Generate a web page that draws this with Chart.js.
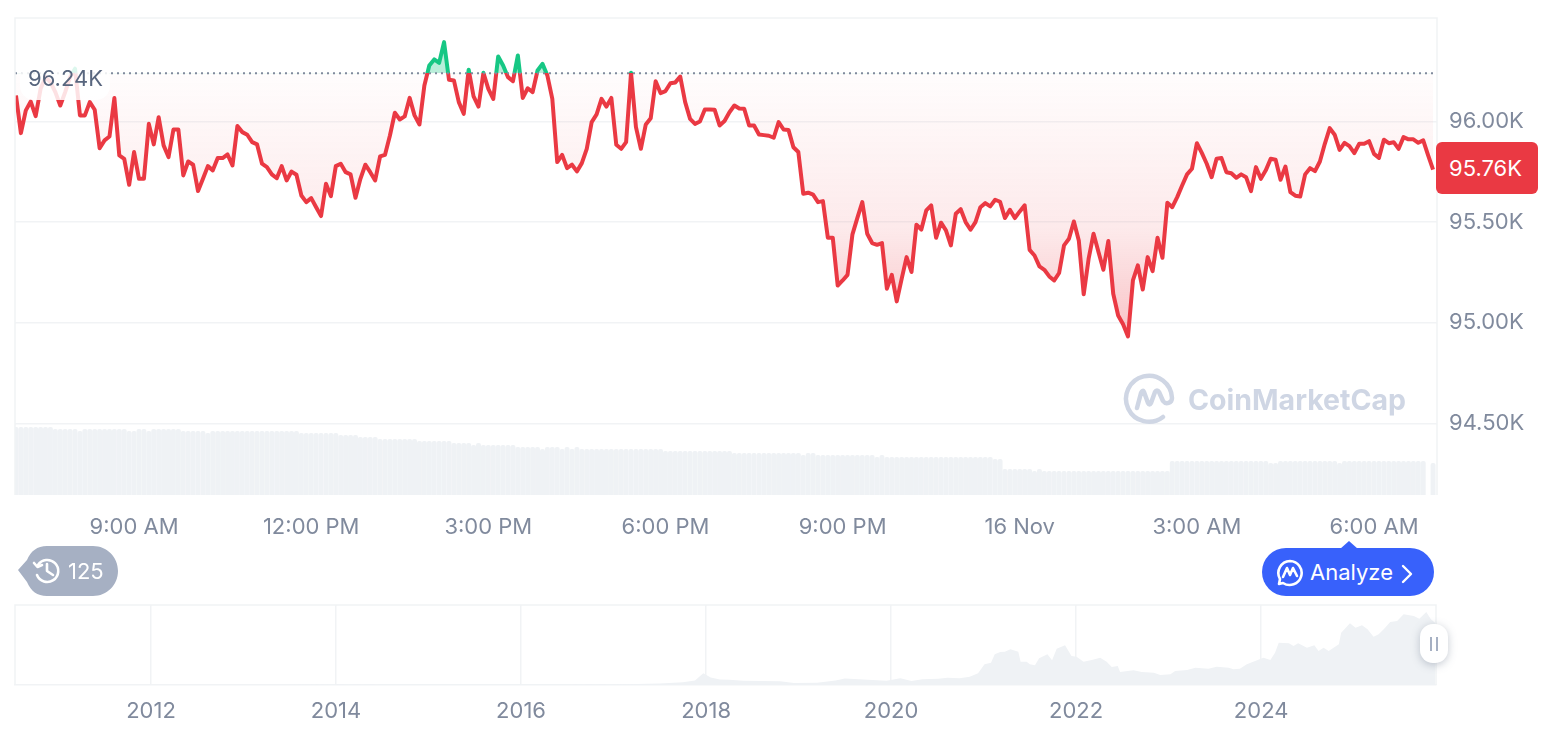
<!DOCTYPE html>
<html>
<head>
<meta charset="utf-8">
<title>BTC price</title>
<script src="https://cdn.jsdelivr.net/npm/chart.js@4"></script>
<style>
html, body { margin: 0; padding: 0; background: #fff; width: 1566px; height: 732px; overflow: hidden; font-family: Inter, sans-serif; }
canvas { position: absolute; left: 0; display: block; }
#mainChart { top: 0; }
#navChart { top: 590px; }
.tag { position: absolute; white-space: nowrap; }
#refLabel { left: 20px; top: 64px; width: 90px; height: 36px; border-radius: 14px; background: rgba(255,255,255,.85); color: #58667e; font-size: 22px; line-height: 28px; padding-left: 8px; box-sizing: border-box; }
#priceTag { left: 1436px; top: 142px; width: 102px; height: 52px; border-radius: 6px; background: #ea3943; color: #fff; font-size: 22px; line-height: 52px; padding-left: 13px; box-sizing: border-box; }
#mark { left: 1188px; top: 380px; color: #cfd6e4; font-size: 28.5px; font-weight: 700; line-height: 40px; }
#analyze { left: 1262px; top: 548px; width: 172px; height: 48px; border-radius: 24px; background: #3861fb; color: #fff; font-size: 22px; line-height: 48px; padding-left: 48px; box-sizing: border-box; }
#backCount { left: 68px; top: 546px; color: #fff; font-size: 22px; line-height: 50px; }
#handle { left: 1420px; top: 624px; width: 28px; height: 39px; border-radius: 13px; background: #fff; box-shadow: 0 2px 9px rgba(88,102,126,.35); }
#handle i { position: absolute; top: 13px; width: 2px; height: 14px; background: #a6b0c3; }
svg { position: absolute; }
</style>
</head>
<body>
<canvas id="mainChart" width="1566" height="732"></canvas>
<canvas id="navChart" width="1566" height="142"></canvas>

<div class="tag" id="refLabel">96.24K</div>
<div class="tag" id="priceTag">95.76K</div>

<svg style="left:1122px;top:370px" width="56" height="56" viewBox="0 0 56 56" fill="none" stroke="#cfd6e4" stroke-width="4.500" stroke-linecap="round" stroke-linejoin="round">
  <path d="M41 47 A23 23 0 1 1 50 28 C50 33 44 35 41 31 L37 22 C36 20 34 20 33 22 L29 33 C28 35 27 35 26 33 L22 22 C21 20 20 21 19 23 L15 38"/>
</svg>
<div class="tag" id="mark">CoinMarketCap</div>

<svg style="left:17px;top:546px" width="102" height="50" viewBox="0 0 102 50"><path d="M1 24 L10 14 C14 5 20 0 30 0 H76 C90 0 101 11 101 25 C101 39 90 50 76 50 H30 C20 50 14 45 10 36 Z" fill="#a6b0c3"/>
  <g fill="none" stroke="#fff" stroke-width="2.6" stroke-linecap="round" stroke-linejoin="round"><path d="M21 19 A11 11 0 1 1 20 29"/><path d="M17 17 L20.500 21 L25 19"/><path d="M30 18 V25 L36 29"/></g></svg>
<div class="tag" id="backCount">125</div>

<svg style="left:1338px;top:540px" width="22" height="10" viewBox="0 0 22 10"><path d="M2 9 L11 1 L20 9 Z" fill="#3861fb"/></svg>
<div class="tag" id="analyze">Analyze</div>
<svg style="left:1276px;top:559px" width="28" height="28" viewBox="0 0 28 28" fill="none" stroke="#fff" stroke-width="2.600" stroke-linecap="round" stroke-linejoin="round"><path d="M14 2 A12 12 0 1 1 7 24 L3 25 L4 20 A12 12 0 0 1 14 2 Z"/><path d="M7 18 L11 9 L14 16 L17 9 L21 17"/></svg>
<svg style="left:1400px;top:564px" width="14" height="20" viewBox="0 0 14 20" fill="none" stroke="#fff" stroke-width="2.400" stroke-linecap="round" stroke-linejoin="round"><path d="M3 2 L11 10 L3 18"/></svg>

<div class="tag" id="handle"><i style="left:10px"></i><i style="left:16px"></i></div>

<script>
// 24h price, one reading every 5 minutes, starting 7:00 AM
var prices = [
  96129, 95942, 96055, 96099, 96026, 96162, 96220, 96195, 96146, 96079, 96146, 96220,
  96262, 96030, 96030, 96096, 96058, 95867, 95906, 95925, 96116, 95831, 95814, 95685,
  95848, 95715, 95715, 95988, 95886, 96021, 95881, 95823, 95960, 95960, 95732, 95801,
  95785, 95654, 95715, 95778, 95757, 95818, 95818, 95836, 95781, 95977, 95947, 95934,
  95897, 95886, 95790, 95773, 95737, 95718, 95778, 95707, 95751, 95735, 95632, 95599,
  95619, 95574, 95530, 95690, 95629, 95778, 95790, 95748, 95737, 95621, 95715, 95785,
  95748, 95707, 95826, 95834, 95930, 96043, 96010, 96025, 96117, 96030, 95985, 96179,
  96278, 96308, 96291, 96394, 96207, 96204, 96096, 96038, 96257, 96124, 96074, 96242,
  96162, 96112, 96323, 96278, 96220, 96200, 96328, 96117, 96165, 96146, 96253, 96286,
  96228, 96112, 95798, 95834, 95768, 95785, 95752, 95793, 95864, 95997, 96035, 96112,
  96074, 96117, 95884, 95864, 95897, 96242, 95972, 95864, 95985, 96016, 96200, 96141,
  96151, 96190, 96194, 96223, 96096, 96013, 95988, 96000, 96059, 96059, 96058, 95980,
  96002, 96046, 96079, 96064, 96063, 95980, 95980, 95935, 95932, 95929, 95919, 95997,
  95960, 95958, 95872, 95848, 95641, 95646, 95636, 95599, 95604, 95422, 95422, 95185,
  95210, 95238, 95439, 95521, 95599, 95442, 95396, 95387, 95396, 95169, 95238, 95106,
  95218, 95326, 95252, 95487, 95463, 95558, 95583, 95422, 95497, 95459, 95384, 95541,
  95564, 95500, 95462, 95500, 95574, 95594, 95578, 95611, 95601, 95520, 95561, 95520,
  95553, 95583, 95362, 95334, 95280, 95263, 95230, 95210, 95247, 95384, 95417, 95503,
  95409, 95141, 95318, 95442, 95351, 95263, 95406, 95144, 95036, 94992, 94932, 95210,
  95285, 95165, 95326, 95256, 95422, 95323, 95596, 95574, 95624, 95682, 95737, 95765,
  95892, 95844, 95790, 95723, 95815, 95818, 95748, 95743, 95720, 95737, 95723, 95654,
  95773, 95715, 95757, 95815, 95810, 95710, 95776, 95649, 95631, 95627, 95737, 95768,
  95753, 95801, 95889, 95967, 95934, 95859, 95894, 95877, 95843, 95889, 95889, 95902,
  95839, 95819, 95909, 95892, 95897, 95864, 95922, 95911, 95911, 95894, 95906, 95831,
  95761
];

// rolling volume in billions
var volumes = [
  67.7, 67.7, 67.7, 67.7, 67.7, 67.7, 67.7, 67.7,
  65.7, 65.7, 65.7, 65.7, 65.7, 63.7,
  65.7, 65.7, 65.7, 65.7, 65.7, 65.7, 65.7, 65.7, 65.7,
  63.7, 63.7, 65.7, 65.7, 63.7,
  65.7, 65.7, 65.7, 65.7, 65.7, 65.7,
  63.7, 63.7, 63.7, 63.7, 63.7, 61.7,
  63.7, 63.7, 63.7, 63.7, 63.7, 63.7, 63.7, 63.7, 63.7,
  63.7, 63.7, 63.7, 63.7, 63.7, 63.7, 63.7, 63.7, 63.7,
  61.7, 61.7, 61.7, 61.7, 61.7, 61.7, 61.7, 61.7,
  59.7, 59.7, 59.7, 59.7, 57.7, 57.7, 57.7, 57.7,
  55.7, 55.7, 55.7, 55.7, 55.7, 55.7, 55.7, 55.7,
  53.7, 53.7, 53.7, 53.7, 53.7, 53.7, 53.7,
  51.7, 51.7, 51.7, 51.7, 49.7, 51.7,
  49.7, 49.7, 49.7, 49.7, 49.7, 49.7, 49.7,
  47.7, 47.7, 47.7, 47.7, 47.7, 45.7,
  47.7, 47.7, 47.7, 45.7, 47.7, 45.7, 47.7,
  45.7, 45.7, 45.7, 45.7, 45.7, 45.7, 45.7, 45.7, 45.7,
  45.7, 45.7, 45.7, 45.7, 45.7, 45.7, 45.7, 45.7,
  43.7, 43.7, 43.7, 43.7, 43.7, 43.7, 43.7, 43.7, 43.7, 43.7, 43.7, 43.7, 43.7, 43.7,
  41.7, 41.7, 41.7, 41.7, 41.7, 41.7, 41.7, 41.7, 41.7, 41.7, 41.7, 41.7, 41.7, 41.7,
  39.7, 41.7, 41.7,
  39.7, 39.7, 39.7, 39.7, 39.7, 39.7, 39.7, 39.7, 39.7, 39.7, 39.7, 39.7,
  37.7, 39.7,
  37.7, 37.7, 37.7, 37.7, 37.7, 37.7, 37.7, 37.7, 37.7, 37.7, 37.7,
  37.7, 37.7, 37.7, 37.7, 37.7, 37.7, 37.7, 37.7, 37.7, 37.7, 37.7,
  35.7, 35.7,
  25.7, 25.7, 25.7, 25.7, 25.7, 25.7, 23.7, 25.7,
  23.7, 23.7, 23.7, 23.7, 23.7, 23.7, 23.7, 23.7, 23.7, 23.7, 23.7, 23.7, 23.7,
  23.7, 23.7, 23.7, 23.7, 23.7, 23.7, 23.7, 23.7, 23.7, 23.7, 23.7, 23.7, 23.7,
  33.7, 33.7, 33.7, 33.7, 33.7, 33.7, 33.7, 33.7, 33.7, 33.7,
  33.7, 33.7, 33.7, 33.7, 33.7, 33.7, 33.7, 33.7, 33.7, 33.7,
  31.7, 31.7,
  33.7, 33.7, 33.7, 33.7, 33.7, 33.7, 33.7, 33.7, 33.7, 33.7, 33.7, 33.7,
  31.7,
  33.7, 33.7, 33.7, 33.7, 33.7, 33.7, 33.7, 33.7, 33.7, 33.7, 33.7, 33.7, 33.7, 33.7, 33.7, 33.7, 33.7,
  null, 31.7
];

var baselinePrice = 96240;

var timeTickIndex = [24, 60, 96, 132, 168, 204, 240, 276];
var timeTickLabels = ['9:00 AM', '12:00 PM', '3:00 PM', '6:00 PM', '9:00 PM', '16 Nov', '3:00 AM', '6:00 AM'];
var priceTicks = [96000, 95500, 95000, 94500];
var priceTickLabels = ['96.00K', '95.50K', '95.00K', '94.50K'];

// long range navigator strip
var navYears = [
  2010.53, 2013.00, 2013.50, 2013.90, 2014.50, 2015.00, 2016.00, 2016.50, 2017.00, 2017.50,
  2017.75, 2017.88, 2017.97, 2018.05, 2018.15, 2018.25, 2018.40, 2018.60, 2018.80, 2018.95,
  2019.20, 2019.40, 2019.50, 2019.70, 2019.95, 2020.10, 2020.22, 2020.34, 2020.51, 2020.61,
  2020.74, 2020.85, 2020.94, 2021.01, 2021.08, 2021.12, 2021.18, 2021.23, 2021.29, 2021.375,
  2021.40, 2021.465, 2021.50, 2021.555, 2021.60, 2021.69, 2021.74, 2021.79, 2021.88, 2021.95,
  2022.005, 2022.08, 2022.17, 2022.26, 2022.33, 2022.385, 2022.45, 2022.475, 2022.62, 2022.71,
  2022.84, 2022.91, 2023.02, 2023.07, 2023.20, 2023.29, 2023.43, 2023.52, 2023.65, 2023.70,
  2023.77, 2023.845, 2023.935, 2024.025, 2024.10, 2024.15, 2024.19, 2024.30, 2024.35, 2024.40,
  2024.495, 2024.575, 2024.62, 2024.675, 2024.73, 2024.84, 2024.865, 2024.96, 2025.02, 2025.09,
  2025.15, 2025.215, 2025.27, 2025.325, 2025.395, 2025.47, 2025.54, 2025.65, 2025.71, 2025.785,
  2025.835, 2025.88
];
var navPrices = [
  0, 15, 90, 800, 600, 300, 430, 650, 950, 2500,
  5000, 8000, 20400, 13000, 9500, 9000, 7500, 7000, 6400, 3700,
  4000, 8000, 11500, 9500, 7300, 11660, 7000, 9900, 11080, 12800,
  11660, 14600, 20400, 36100, 39000, 53600, 57700, 58300, 62400, 58300,
  40800, 40800, 36100, 34400, 46600, 53600, 43100, 63500, 69400, 50700,
  49600, 40800, 43700, 47800, 40800, 31500, 33200, 22700, 25600, 22700,
  21600, 17500, 18700, 24500, 26200, 30300, 28600, 32100, 30300, 27400,
  28600, 36100, 42000, 47800, 43700, 56600, 74000, 72900, 68200, 72900,
  65300, 69400, 59500, 65300, 59500, 71100, 91500, 107900, 100300, 104400,
  97400, 84500, 88600, 97400, 110200, 111900, 123600, 120700, 116000, 127700,
  114900, 109000
];
var navTickYears = [2012, 2014, 2016, 2018, 2020, 2022, 2024];

Chart.defaults.font.family = 'Inter, sans-serif';
Chart.defaults.color = '#808a9d';
Chart.defaults.animation = false;

var lineColor = '#ea3943';
var upColor = '#16c784';
var gridColor = '#f1f3f5';

// thin frame round the plot area
var framePlugin = {
  id: 'frame',
  afterDatasetsDraw: function(chart) {
    var a = chart.chartArea, ctx = chart.ctx;
    ctx.save();
    ctx.strokeStyle = gridColor;
    ctx.lineWidth = 1.5;
    ctx.beginPath();
    ctx.moveTo(a.left, a.bottom);
    ctx.lineTo(a.left, a.top);
    ctx.lineTo(a.right, a.top);
    ctx.lineTo(a.right, a.bottom);
    ctx.stroke();
    ctx.restore();
  }
};

// keep tick labels from pushing the plot area around
function noMargins(s) {
  s.paddingTop = 0;
  s.paddingBottom = 0;
  s.paddingLeft = 0;
  s.paddingRight = 0;
}

var lineData = prices.map(function(p, i) { return { x: i, y: p }; });
var barData = volumes.map(function(v, i) { return { x: i, y: v }; });

var mainChart = new Chart(document.getElementById('mainChart').getContext('2d'), {
  type: 'line',
  data: {
    datasets: [
      {
        label: 'Price',
        data: lineData,
        yAxisID: 'y',
        borderColor: lineColor,
        borderWidth: 4,
        borderJoinStyle: 'round',
        pointRadius: 0,
        tension: 0,
        order: 1,
        fill: { target: { value: baselinePrice }, above: 'rgba(22,199,132,0.3)', below: 'rgba(234,57,67,0.1)' }
      },
      {
        label: 'Reference',
        data: [{ x: -0.2, y: baselinePrice }, { x: 288.8, y: baselinePrice }],
        yAxisID: 'y',
        borderColor: '#808a9d',
        borderWidth: 2,
        borderDash: [2, 4],
        pointRadius: 0,
        order: 0
      },
      {
        type: 'bar',
        label: 'Volume',
        data: barData,
        yAxisID: 'yVol',
        backgroundColor: '#eff2f5',
        barThickness: 4.3,
        borderRadius: { topLeft: 2, topRight: 2 },
        borderSkipped: 'bottom',
        order: 2
      }
    ]
  },
  options: {
    responsive: false,
    layout: { padding: { left: 15, top: 18, right: 0, bottom: 0 } },
    plugins: { legend: { display: false }, tooltip: { enabled: false } },
    scales: {
      x: {
        type: 'linear',
        offset: false,
        min: -0.2,
        max: 288.8,
        grid: { display: false, drawTicks: false },
        border: { display: false },
        afterFit: function(s) { s.height = 237; noMargins(s); },
        afterBuildTicks: function(s) { s.ticks = timeTickIndex.map(function(v) { return { value: v }; }); },
        ticks: {
          autoSkip: false,
          maxRotation: 0,
          padding: 19,
          font: { size: 22 },
          callback: function(v) { return timeTickLabels[timeTickIndex.indexOf(v)]; }
        }
      },
      y: {
        position: 'right',
        min: 94144,
        max: 96514,
        grid: { color: gridColor, lineWidth: 1.5, drawTicks: false },
        border: { display: false },
        afterFit: function(s) { s.width = 129; noMargins(s); },
        afterBuildTicks: function(s) { s.ticks = priceTicks.map(function(v) { return { value: v }; }); },
        ticks: {
          padding: 12,
          font: { size: 22 },
          callback: function(v) { return priceTickLabels[priceTicks.indexOf(v)]; }
        }
      },
      yVol: { display: false, min: 0, max: 477 }
    }
  },
  plugins: [framePlugin]
});

// hard colour change at the reference price, fill fades out towards it
var yScale = mainChart.scales.y, area = mainChart.chartArea, ctx = mainChart.ctx;
var baseY = yScale.getPixelForValue(baselinePrice);
var lowY = yScale.getPixelForValue(Math.min.apply(null, prices));
var stop = (baseY - area.top) / (area.bottom - area.top);

var strokeGrad = ctx.createLinearGradient(0, area.top, 0, area.bottom);
strokeGrad.addColorStop(0, upColor);
strokeGrad.addColorStop(stop, upColor);
strokeGrad.addColorStop(stop, lineColor);
strokeGrad.addColorStop(1, lineColor);

var fillGrad = ctx.createLinearGradient(0, baseY, 0, lowY);
fillGrad.addColorStop(0, 'rgba(234,57,67,0.01)');
fillGrad.addColorStop(0.25, 'rgba(234,57,67,0.05)');
fillGrad.addColorStop(0.6, 'rgba(234,57,67,0.11)');
fillGrad.addColorStop(1, 'rgba(234,57,67,0.3)');

mainChart.data.datasets[0].borderColor = strokeGrad;
mainChart.data.datasets[0].fill.below = fillGrad;
mainChart.update('none');

var navData = navYears.map(function(y, i) { return { x: y, y: navPrices[i] }; });

var navChart = new Chart(document.getElementById('navChart').getContext('2d'), {
  type: 'line',
  data: {
    datasets: [{
      data: navData,
      borderWidth: 0,
      pointRadius: 0,
      tension: 0,
      backgroundColor: '#eff2f5',
      fill: 'origin'
    }]
  },
  options: {
    responsive: false,
    layout: { padding: { left: 15, top: 15, right: 130, bottom: 0 } },
    plugins: { legend: { display: false }, tooltip: { enabled: false } },
    scales: {
      x: {
        type: 'linear',
        min: 2010.53,
        max: 2025.89,
        grid: { color: gridColor, lineWidth: 1.5, drawTicks: false },
        border: { color: gridColor, width: 1.5 },
        afterFit: function(s) { s.height = 47; noMargins(s); },
        afterBuildTicks: function(s) { s.ticks = navTickYears.map(function(v) { return { value: v }; }); },
        ticks: {
          autoSkip: false,
          maxRotation: 0,
          padding: 13,
          font: { size: 22 },
          callback: function(v) { return String(v); }
        }
      },
      y: { display: false, min: 0, max: 140000 }
    }
  },
  plugins: [framePlugin]
});
</script>
</body>
</html>
